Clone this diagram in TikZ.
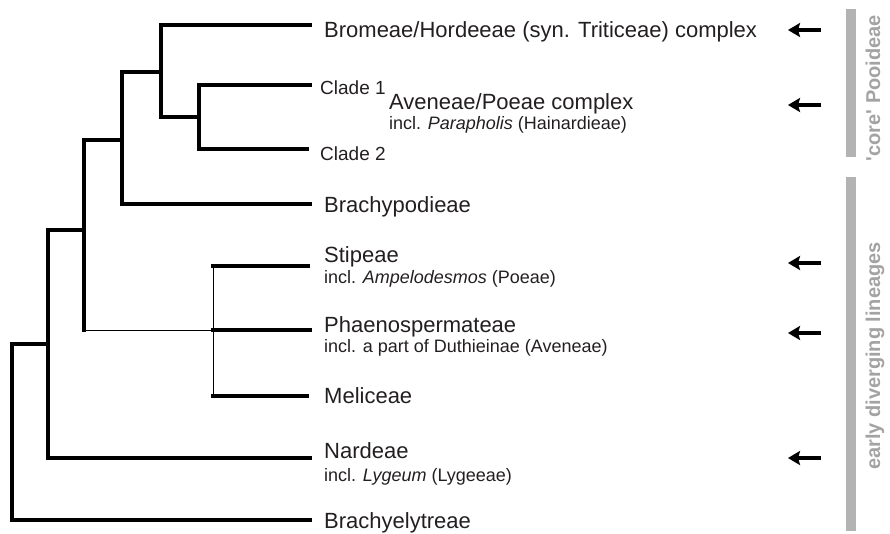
\documentclass[tikz,border=0pt]{standalone}
\usepackage{fontspec}
\newfontfamily\arialf{Liberation Sans}
\usetikzlibrary{arrows.meta}
\definecolor{barg}{HTML}{B3B3B3}
\definecolor{txtg}{HTML}{A3A3A3}
\definecolor{ink}{HTML}{231F20}
\begin{document}
\begin{tikzpicture}[x=1pt,y=-1pt,
  thick branch/.style={draw=black,line width=3.2pt,line join=miter,line cap=rect},
  thin branch/.style={draw=black,line width=1pt},
  biglab/.style={anchor=base west,inner sep=0pt,text=ink,font=\arialf\fontsize{22}{26}\selectfont},
  smalllab/.style={anchor=base west,inner sep=0pt,text=ink,font=\arialf\fontsize{18}{21}\selectfont},
  cladelab/.style={anchor=base west,inner sep=0pt,text=ink,font=\arialf\fontsize{19}{23}\selectfont},
  grouplab/.style={anchor=base,inner sep=0pt,rotate=90,text=txtg,font=\arialf\bfseries\fontsize{20}{24}\selectfont},
  groupbar/.style={fill=barg,draw=none},
  marker/.style={draw=black,line width=4pt,-{Stealth[length=12pt,width=14pt,inset=2pt]}}]
\useasboundingbox (0,0) rectangle (890,533);
% internal nodes
\coordinate (n1) at (12,432);
\coordinate (n2) at (48,344);
\coordinate (n3) at (84,230);
\coordinate (n4) at (122,140);
\coordinate (n5) at (161,72);
\coordinate (n7) at (199,117);
\coordinate (n6) at (213,330);
% tips
\coordinate (tBrom) at (310,25);
\coordinate (tC1) at (310,85);
\coordinate (tC2) at (307,149);
\coordinate (tBrachyp) at (310,204);
\coordinate (tStip) at (308,266);
\coordinate (tPhae) at (310,330);
\coordinate (tMeli) at (307,396);
\coordinate (tNard) at (310,458);
\coordinate (tBrachye) at (310,520);
% branches
\draw[thick branch] (tBrom) -- (tBrom -| n5) -- (n7 -| n5) -- (n7);
\draw[thick branch] (tC1) -- (tC1 -| n7) -- (tC2 -| n7) -- (tC2);
\draw[thick branch] (n5) -- (n5 -| n4) -- (tBrachyp -| n4) -- (tBrachyp);
\draw[thick branch] (n4) -- (n4 -| n3) -- (n3 |- n6);
\draw[thin branch] (n3 |- n6) -- (n6);
\draw[thin branch] (tStip -| n6) -- (tMeli -| n6);
\draw[thick branch] (tStip -| n6) -- (tStip);
\draw[thick branch] (n6) -- (tPhae);
\draw[thick branch] (tMeli -| n6) -- (tMeli);
\draw[thick branch] (n3) -- (n3 -| n2) -- (tNard -| n2) -- (tNard);
\draw[thick branch] (n2) -- (n2 -| n1) -- (tBrachye -| n1) -- (tBrachye);
% labels
\node[biglab] (lBrom) at (324,37) {Bromeae/Hordeeae (syn. Triticeae) complex};
\node[cladelab] (lC1) at (320,94) {Clade 1};
\node[biglab] (lAv) at (389,109) {Aveneae/Poeae complex};
\node[smalllab] (lAv2) at (389,129) {incl. \textit{Parapholis} (Hainardieae)};
\node[cladelab] (lC2) at (320,160) {Clade 2};
\node[biglab] (lBrachyp) at (324,212) {Brachypodieae};
\node[biglab] (lStip) at (324,262) {Stipeae};
\node[smalllab] (lStip2) at (324,283) {incl. \textit{Ampelodesmos} (Poeae)};
\node[biglab] (lPhae) at (324,332) {Phaenospermateae};
\node[smalllab] (lPhae2) at (324,352) {incl. a part of Duthieinae (Aveneae)};
\node[biglab] (lMeli) at (324,403) {Meliceae};
\node[biglab] (lNard) at (324,458) {Nardeae};
\node[smalllab] (lNard2) at (324,481) {incl. \textit{Lygeum} (Lygeeae)};
\node[biglab] (lBrachye) at (324,528) {Brachyelytreae};
% arrows
\coordinate (a1s) at (821,30);  \coordinate (a1e) at (788,30);
\coordinate (a2s) at (821,105); \coordinate (a2e) at (788,105);
\coordinate (a3s) at (821,263); \coordinate (a3e) at (788,263);
\coordinate (a4s) at (821,333); \coordinate (a4e) at (788,333);
\coordinate (a5s) at (821,458); \coordinate (a5e) at (788,458);
\draw[marker] (a1s) -- (a1e);
\draw[marker] (a2s) -- (a2e);
\draw[marker] (a3s) -- (a3e);
\draw[marker] (a4s) -- (a4e);
\draw[marker] (a5s) -- (a5e);
% group bars
\path[groupbar] (846,9) rectangle (856,157);
\path[groupbar] (846,177) rectangle (856,531);
\node[grouplab] (gCore) at (880,88) {'core' Pooideae};
\node[grouplab] (gEarly) at (880,356) {early diverging lineages};
\end{tikzpicture}
\end{document}
